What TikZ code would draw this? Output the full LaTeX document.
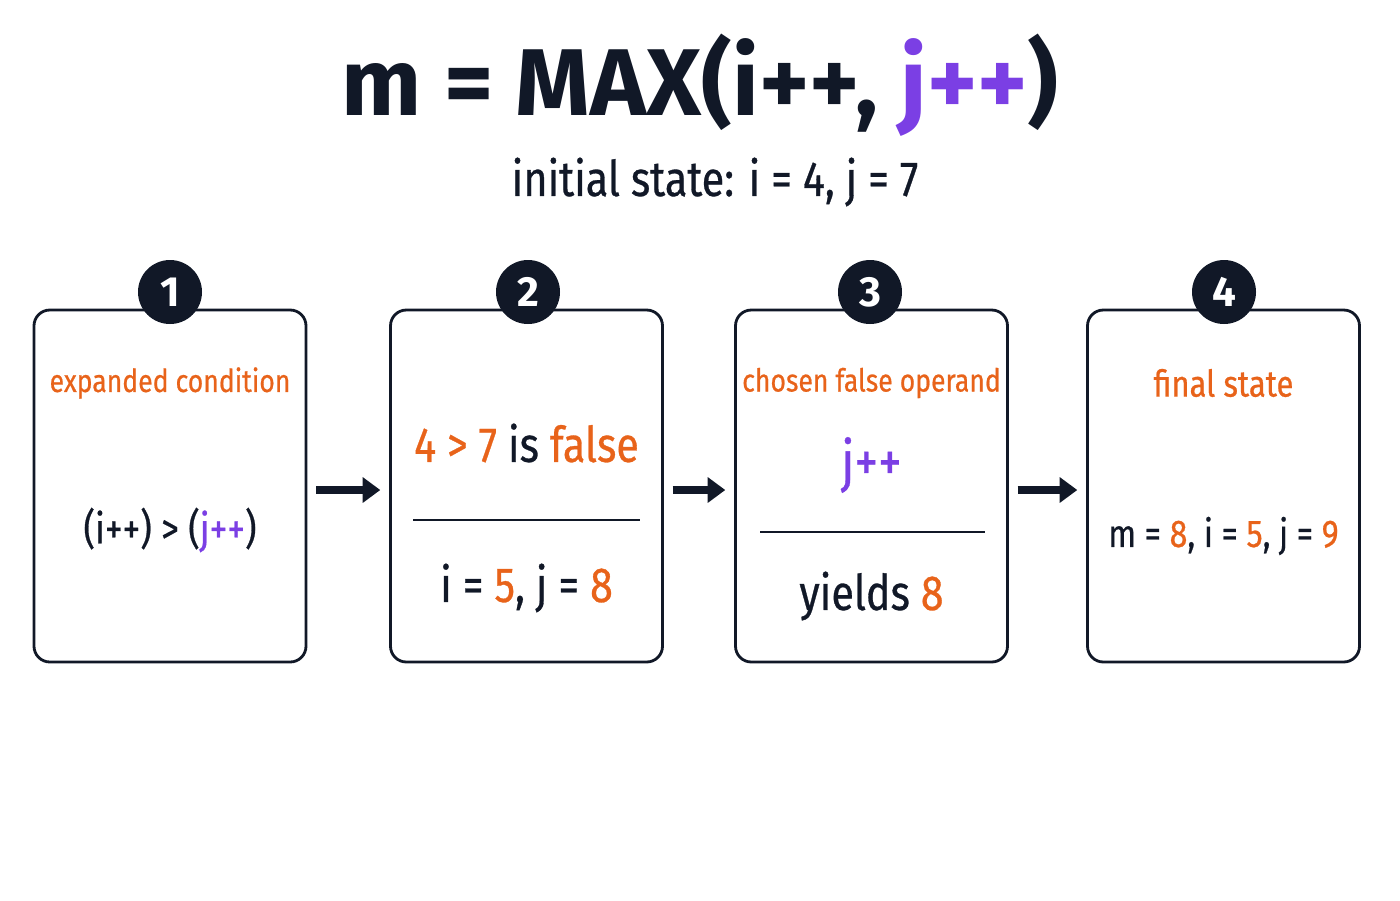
\documentclass[tikz,border=0pt]{standalone}
\usepackage{fontspec}
\setmainfont{Fira Sans}
\newfontfamily\narrow[FakeStretch=0.84, FakeBold=0.6]{Fira Sans}
\usetikzlibrary{arrows.meta, positioning}
\definecolor{ink}{HTML}{111827}
\definecolor{accent}{HTML}{E8631A}
\definecolor{violet}{HTML}{7B3FE4}
\newcommand{\fs}[1]{\fontsize{#1}{#1}\selectfont}

\begin{document}
\begin{tikzpicture}[>={Triangle[length=10pt, width=14pt]}, thick,
  stage/.style={draw=ink, line width=1.6pt, rounded corners=9pt, minimum width=5.44cm, minimum height=7.04cm, inner sep=0pt},
  badge/.style={circle, fill=ink, text=white, minimum size=1.28cm, inner sep=0pt, font=\fs{24}\bfseries},
  caption/.style={text=accent, font=\narrow\fs{18}},
  body/.style={text=ink, font=\narrow\fs{24}},
  flow/.style={->, line width=4pt, draw=ink, shorten >=5pt, shorten <=5pt}]
  \useasboundingbox (0,0) rectangle (28,-18);

  % Title
  \node[text=ink, font=\fs{54}\bfseries] (title) at (14,-1.7) {m = MAX(i++, \textcolor{violet}{j++})};
  \node[text=ink, font=\narrow\fs{28}] (init) at (14.3,-3.64) {initial state: i = 4, j = 7};

  % Boxes
  \node[stage] (box1) at (3.4,-9.72) {};
  \node[stage] (box2) at (10.53,-9.72) {};
  \node[stage] (box3) at (17.43,-9.72) {};
  \node[stage] (box4) at (24.47,-9.72) {};

  % Badges
  \foreach \n/\x in {1/3.4, 2/10.56, 3/17.4, 4/24.48} {
    \node[badge] (badge\n) at (\x,-5.84) {\n};
  }

  % Box 1
  \node[caption] (cap1) at (3.4,-7.66) {expanded condition};
  \node[body] (cond) at (3.4,-10.6) {(i++) > (\textcolor{violet}{j++})};

  % Box 2
  \node[body, font=\narrow\fs{28}] (test) at (10.53,-8.86) {\textcolor{accent}{4 > 7} is \textcolor{accent}{false}};
  \draw[ink, line width=1pt] (8.26,-10.4) coordinate (l2a) -- (12.8,-10.4) coordinate (l2b);
  \node[body, font=\narrow\fs{28}] (inc) at (10.53,-11.76) {i = \textcolor{accent}{5}, j = \textcolor{accent}{8}};

  % Box 3
  \node[caption] (cap3) at (17.43,-7.66) {chosen false operand};
  \node[text=violet, font=\narrow\fs{32}] (pick) at (17.43,-9.3) {j++};
  \draw[ink, line width=1pt] (15.2,-10.64) coordinate (l3a) -- (19.7,-10.64) coordinate (l3b);
  \node[body, font=\narrow\fs{28}] (yield) at (17.43,-11.92) {yields \textcolor{accent}{8}};

  % Box 4
  \node[caption, font=\narrow\fs{21}] (cap4) at (24.47,-7.66) {final state};
  \node[body, font=\narrow\fs{22}] (final) at (24.47,-10.72) {m = \textcolor{accent}{8}, i = \textcolor{accent}{5}, j = \textcolor{accent}{9}};

  % Connections
  \draw[flow] (box1.east |- 0,-9.8) -- (box2.west |- 0,-9.8);
  \draw[flow] (box2.east |- 0,-9.8) -- (box3.west |- 0,-9.8);
  \draw[flow] (box3.east |- 0,-9.8) -- (box4.west |- 0,-9.8);
\end{tikzpicture}
\end{document}
